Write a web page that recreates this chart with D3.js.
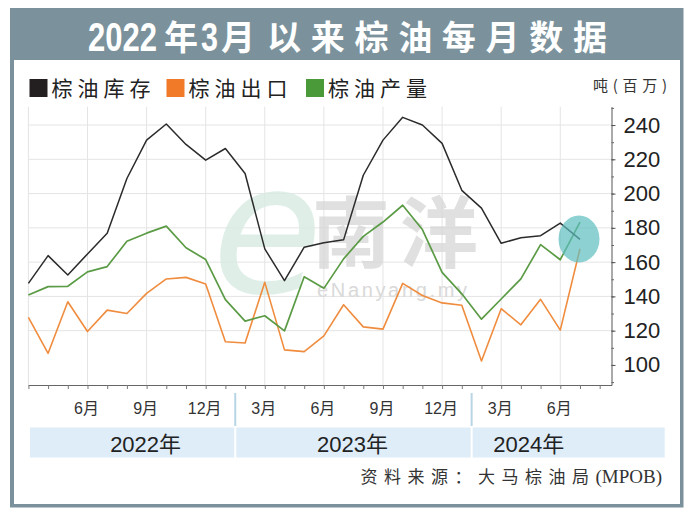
<!DOCTYPE html>
<html>
<head>
<meta charset="utf-8">
<script src="https://cdn.jsdelivr.net/npm/d3@7"></script>
<style>
  html, body { margin: 0; padding: 0; background: #ffffff; }
  svg { display: block; }
</style>
</head>
<body>
<svg id="chart" width="690" height="512"></svg>
<script>
// ---------------- DATA ----------------
const title = "2022年3月以来棕油每月数据";
const seriesNames = ["棕油库存", "棕油出口", "棕油产量"];
const unitLabel = "吨(百万)";
const sourceCJK = "资料来源：大马棕油局";
const sourceLatin = "(MPOB)";

// monthly index 0 = 2022年3月 ... 28 = 2024年7月
const monthIndex = d3.range(0, 29);
const stocks = [147.6, 163.8, 152.5, 164.8, 176.9, 208.8, 231.2, 240.6, 228.7, 219.5,
                226.3, 211.7, 167.7, 149.2, 168.7, 171.3, 173.0, 210.7, 231.2, 244.5,
                240.0, 229.3, 201.9, 191.5, 171.0, 174.2, 175.4, 182.8, 173.3];
const exports_ = [127.7, 106.8, 136.9, 119.5, 132.0, 130.0, 141.8, 150.2, 151.1, 147.3,
                  113.5, 112.8, 148.2, 108.8, 107.8, 117.0, 135.1, 122.2, 120.9, 147.6,
                  140.5, 136.2, 134.8, 102.3, 132.8, 123.4, 138.3, 120.3, 167.8];
const production = [140.8, 145.7, 145.9, 154.3, 157.4, 172.2, 176.9, 181.0, 168.4, 161.5,
                    138.1, 125.6, 128.7, 119.9, 151.5, 144.7, 161.9, 175.0, 183.4, 193.2,
                    179.0, 154.0, 141.5, 126.7, 138.5, 150.2, 170.2, 161.4, 183.4];

const monthTickIdx = [3, 6, 9, 12, 15, 18, 21, 24, 27];
const monthTickLabels = ["6月", "9月", "12月", "3月", "6月", "9月", "12月", "3月", "6月"];
const yTicks = [100, 120, 140, 160, 180, 200, 220, 240];
const yMinorTicks = d3.range(90, 251, 10);
const yGrid = [120, 140, 160, 180, 200, 220, 240];
const xGridIdx = [0, 3, 6, 9, 12, 15, 18, 21, 24, 27];

const years = ["2022年", "2023年", "2024年"];
const yearBounds = [0.08, 10.5, 22.5, 32.3];   // band edges in month index
const yearLabelIdx = [5.95, 16.45, 25.4];
const highlight = { idx: 27.95, value: 173.5 };

// ---------------- LAYOUT ----------------
const svg = d3.select("#chart");
const colors = { stock: "#2b2b2b", exp: "#f08c3e", prod: "#5b9b45" };
const legendColors = ["#231f20", "#f07a28", "#4a9a3a"];
const frame = "#7b929c";

const x = d3.scaleLinear().domain([0, 29.6]).range([28.4, 611.5]);
const y = d3.scaleLinear().domain([88.3, 250.7]).range([385, 106.7]);

// frame + panel
svg.append("rect").attr("x", 10).attr("y", 8).attr("width", 673.5).attr("height", 499.5).attr("fill", frame);
svg.append("rect").attr("x", 14).attr("y", 60).attr("width", 666).attr("height", 444).attr("fill", "#ffffff");

// title: one text element, segments as tspans
const digitFont = "'Liberation Sans', Arial, sans-serif";
const cjkFont = "'Noto Sans CJK SC', sans-serif";
const tt = svg.append("text").attr("y", 50).attr("fill", "#ffffff").attr("font-weight", "bold")
  .attr("font-family", cjkFont).attr("font-size", 34);
const segs = [
  { t: title.slice(0, 4), x: 88, digit: true, len: 69 },
  { t: title.slice(4, 5), x: 164 },
  { t: title.slice(5, 6), x: 201, digit: true, len: 17 },
  { t: title.slice(6, 7), x: 221 },
  { t: title.slice(7), x: 267, len: 340 }
];
segs.forEach(s => {
  const sp = tt.append("tspan").attr("x", s.x).text(s.t);
  if (s.digit) {
    sp.attr("font-family", digitFont).attr("font-size", 40).attr("y", 51)
      .attr("textLength", s.len).attr("lengthAdjust", "spacingAndGlyphs");
  } else {
    sp.attr("y", 50);
    if (s.len) sp.attr("textLength", s.len).attr("lengthAdjust", "spacing");
  }
});

// legend
const legendX = [29.5, 166.5, 306];
seriesNames.forEach((n, i) => {
  svg.append("rect").attr("x", legendX[i]).attr("y", 79).attr("width", 18).attr("height", 18).attr("fill", legendColors[i]);
  svg.append("text").attr("x", legendX[i] + 22).attr("y", 96).attr("font-family", cjkFont)
    .attr("font-size", 21).attr("letter-spacing", 5).attr("fill", "#222").text(n);
});
svg.append("text").attr("x", 593).attr("y", 91).attr("font-family", cjkFont)
  .attr("font-size", 15).attr("textLength", 74).attr("lengthAdjust", "spacing")
  .attr("fill", "#333").text(unitLabel);

// gridlines
const grid = svg.append("g").attr("stroke", "#e4e4e4").attr("stroke-width", 1);
grid.selectAll("line.h").data(yGrid).join("line")
  .attr("x1", x(0)).attr("x2", x(29.6)).attr("y1", d => y(d)).attr("y2", d => y(d));
grid.selectAll("line.v").data(xGridIdx).join("line")
  .attr("x1", d => x(d)).attr("x2", d => x(d)).attr("y1", y(250.7)).attr("y2", y(88.3));

// watermark
const wm = svg.append("g");
wm.append("text").attr("x", 212).attr("y", 292).attr("font-family", "'DejaVu Sans', sans-serif")
  .attr("font-style", "italic").attr("font-size", 180)
  .attr("fill", "#d8ece3").attr("opacity", 0.8).text("e");
wm.append("text").attr("x", 312).attr("y", 262).attr("font-family", cjkFont).attr("font-weight", "bold")
  .attr("font-size", 78).attr("letter-spacing", 10).attr("fill", "#d6d6d6").attr("opacity", 0.75).text("南洋");
wm.append("text").attr("x", 317).attr("y", 297).attr("font-family", digitFont).attr("font-size", 20)
  .attr("textLength", 150).attr("fill", "#d9d9d9").text("eNanyang.my");

// lines
const line = d3.line().x((d, i) => x(monthIndex[i])).y(d => y(d));
[[exports_, colors.exp, 1.6], [production, colors.prod, 1.7], [stocks, colors.stock, 1.5]].forEach(([data, c, w]) => {
  svg.append("path").datum(data).attr("d", line).attr("fill", "none").attr("stroke", c)
    .attr("stroke-width", w).attr("stroke-linejoin", "round");
});

// highlight circle
svg.append("ellipse").attr("cx", x(highlight.idx)).attr("cy", y(highlight.value))
  .attr("rx", 20.5).attr("ry", 23.5).attr("fill", "#5cbdc1").attr("opacity", 0.7);

// x axis (ticks)
const xAxis = svg.append("g").attr("transform", `translate(0,${y(88.3)})`)
  .call(d3.axisBottom(x).tickValues(d3.range(0, 30)).tickSize(4).tickSizeOuter(0).tickFormat(""));
xAxis.select(".domain").attr("stroke", "#666");
xAxis.selectAll(".tick line").attr("stroke", "#777");

// x month labels
const xLab = svg.append("g").attr("transform", `translate(-1.5,${y(88.3)})`)
  .call(d3.axisBottom(x).tickValues(monthTickIdx).tickSize(0).tickPadding(18)
    .tickFormat((d, i) => monthTickLabels[i]));
xLab.select(".domain").remove();
xLab.selectAll("text").attr("font-family", "'Liberation Sans', 'Noto Sans CJK SC', sans-serif")
  .attr("font-size", 16).attr("fill", "#333");

// y axis
const yMinor = svg.append("g").attr("transform", `translate(${x(29.6)},0)`)
  .call(d3.axisRight(y).tickValues(yMinorTicks).tickSize(2.5).tickSizeOuter(0).tickFormat(""));
yMinor.select(".domain").attr("stroke", "#555");
yMinor.selectAll(".tick line").attr("stroke", "#666");
const yAxis = svg.append("g").attr("transform", `translate(${x(29.6)},0)`)
  .call(d3.axisRight(y).tickValues(yTicks).tickSize(4).tickSizeOuter(0).tickPadding(8));
yAxis.select(".domain").remove();
yAxis.selectAll(".tick line").attr("stroke", "#555");
yAxis.selectAll("text").attr("font-family", digitFont).attr("font-size", 22).attr("fill", "#222");

// year band
const band = svg.append("g");
years.forEach((yr, i) => {
  band.append("rect").attr("x", x(yearBounds[i]) + (i ? 1 : 0)).attr("y", 427.5)
    .attr("width", x(yearBounds[i + 1]) - x(yearBounds[i]) - (i ? 1 : 0) - (i < 2 ? 1 : 0))
    .attr("height", 30).attr("fill", "#deedf8");
  band.append("text").attr("x", x(yearLabelIdx[i])).attr("y", 452).attr("text-anchor", "middle")
    .attr("font-family", "'Liberation Sans', 'Noto Sans CJK SC', sans-serif").attr("font-size", 22)
    .attr("fill", "#222").text(yr);
});
[yearBounds[1], yearBounds[2]].forEach(b => {
  band.append("line").attr("x1", x(b)).attr("x2", x(b)).attr("y1", 393).attr("y2", 426)
    .attr("stroke", "#b8d5e6").attr("stroke-width", 2);
});

// source
const src = svg.append("text").attr("x", 662).attr("y", 483).attr("text-anchor", "end").attr("fill", "#333");
src.append("tspan").attr("font-family", "'Noto Sans CJK SC', serif").attr("font-size", 17)
  .attr("letter-spacing", 6.5).text(sourceCJK);
src.append("tspan").attr("font-family", "'Liberation Serif', serif").attr("font-size", 19)
  .attr("letter-spacing", 0).text(sourceLatin);
</script>
</body>
</html>
